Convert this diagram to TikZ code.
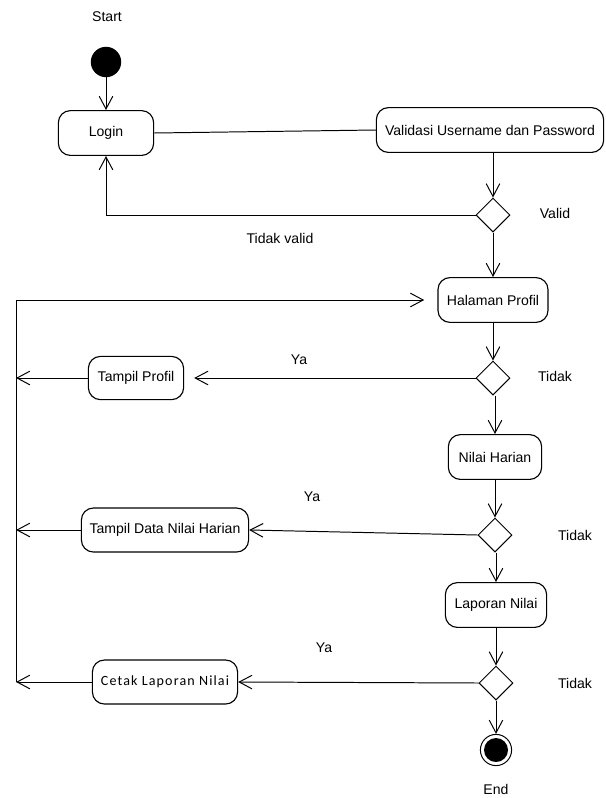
\documentclass[tikz,border=0pt]{standalone}
\usepackage{fontspec}
\setmainfont{Liberation Sans}
\newfontfamily\cetakfont[LetterSpace=8]{Carlito}
\usetikzlibrary{shapes.geometric,arrows.meta}

\begin{document}
\begin{tikzpicture}[x=0.025cm,y=-0.025cm]
		\tikzstyle{every node}+=[inner sep=0pt, font=\fontsize{10}{12}\selectfont]
		\tikzstyle{act}=[draw=black, line width=0.8pt, rounded corners=0.3cm, minimum height=1.12cm]
		\tikzstyle{dec}=[draw=black, line width=0.7pt, diamond, aspect=1, minimum size=0.85cm]
		\tikzstyle{line}=[draw=black, line width=0.7pt]
		\tikzstyle{flow}=[line, -{Straight Barb[length=3.2mm,width=3.4mm]}]
		\useasboundingbox (0,0) rectangle (606,798);
		% start and login
		\node (starttxt) at (107,17) {Start};
		\node (start) [circle, fill=black, minimum size=0.76cm] at (106,62) {};
		\node (login) [act, minimum width=2.38cm] at (106,133) {Login};
		\node (validasi) [act, minimum width=5.68cm] at (490,130) {Validasi Username dan Password};
		\node (d1) [dec] at (493,215) {};
		\node (valid) at (555,213) {Valid};
		\node (tidakvalid) at (280,238) {Tidak valid};
		% profil
		\node (halaman) [act, minimum width=2.75cm] at (493,300) {Halaman Profil};
		\node (d2) [dec] at (493,378) {};
		\node (ya1) at (299,360) {Ya};
		\node (tidak1) at (555,376) {Tidak};
		\node (tampil) [act, minimum width=2.38cm, minimum height=1.08cm] at (136,378) {Tampil Profil};
		% nilai harian
		\node (nilai) [act, minimum width=2.33cm] at (495,457) {Nilai Harian};
		\node (d3) [dec] at (495,535) {};
		\node (ya2) at (312,497) {Ya};
		\node (tidak2) at (575,535) {Tidak};
		\node (tampildata) [act, minimum width=4.18cm, minimum height=1.1cm] at (165,530) {Tampil Data Nilai Harian};
		% laporan nilai
		\node (laporan) [act, minimum width=2.53cm] at (496,605) {Laporan Nilai};
		\node (d4) [dec] at (496,683) {};
		\node (ya3) at (324,648) {Ya};
		\node (tidak3) at (575,683) {Tidak};
		\node (cetak) [act, minimum width=3.63cm, minimum height=1.1cm] at (165,682) {\cetakfont Cetak Laporan Nilai};
		% end
		\node (end) [circle, draw=black, line width=0.7pt, minimum size=0.78cm] at (496,750) {};
		\fill [black] (end.center) circle (0.3cm);
		\node (endtxt) at (496,789) {End};
		% return line
		\coordinate (looptop) at (16,300);
		\coordinate (loopbot) at (16,682);
		% connectors
		\draw [flow] (start) -- (login);
		\draw [line] (login.east) -- (validasi.west);
		\draw [flow] (validasi.south -| d1) -- (d1);
		\draw [flow] (d1.west) -| (login.south);
		\draw [flow] (d1) -- (halaman);
		\draw [line] (looptop) -- (loopbot);
		\draw [flow, shorten >=0.33cm] (looptop) -- (halaman.west);
		\draw [flow] (halaman) -- (d2);
		\draw [flow, shorten >=0.25cm] (d2.west) -- (tampil.east);
		\draw [flow] (tampil.west) -- (tampil.west -| looptop);
		\draw [flow] (d2.south -| nilai) -- (nilai);
		\draw [flow] (nilai) -- (d3);
		\draw [flow] (d3.west) -- (tampildata.east);
		\draw [flow] (tampildata.west) -- (tampildata.west -| looptop);
		\draw [flow] (d3.south -| laporan) -- (laporan);
		\draw [flow] (laporan) -- (d4);
		\draw [flow] (d4.west) -- (cetak.east);
		\draw [flow] (cetak.west) -- (loopbot);
		\draw [flow] (d4) -- (end);
	\end{tikzpicture}
\end{document}
